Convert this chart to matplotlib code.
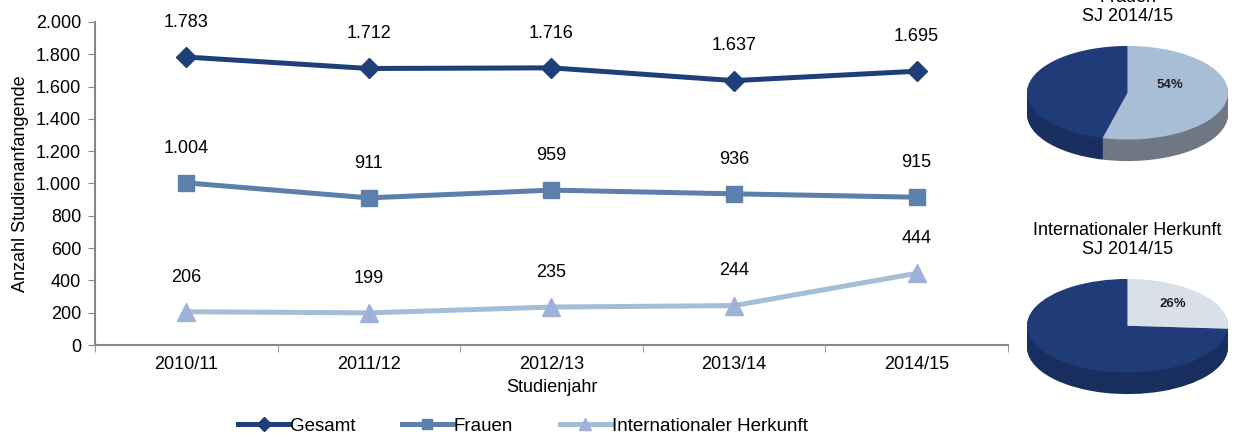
import matplotlib.pyplot as plt
import numpy as np

plt.rcParams['font.family'] = ['Liberation Sans', 'DejaVu Sans']
plt.rcParams['font.size'] = 13

jahre = ['2010/11', '2011/12', '2012/13', '2013/14', '2014/15']
gesamt = [1783, 1712, 1716, 1637, 1695]
frauen = [1004, 911, 959, 936, 915]
international = [206, 199, 235, 244, 444]

pie_frauen = [46, 54]
pie_intl = [74, 26]

c_ges = '#1F3F7A'
c_fra = '#5B80AB'
c_int = '#A3BED6'
c_int_m = '#9EB1D8'


def fmt_de(v):
    return '{:,}'.format(int(v)).replace(',', '.')


fig = plt.figure(figsize=(12.33, 4.37), dpi=100)
ax = fig.add_axes([0.0770, 0.2105, 0.7405, 0.7392])

x = np.arange(len(jahre))
ax.plot(x, gesamt, color=c_ges, lw=3.6, marker='D', ms=10, label='Gesamt')
ax.plot(x, frauen, color=c_fra, lw=3.6, marker='s', ms=11, label='Frauen')
ax.plot(x, international, color=c_int, lw=3.6, marker='^', ms=13,
        mfc=c_int_m, mec=c_int_m, label='Internationaler Herkunft')

for serie in (gesamt, frauen, international):
    for xi, v in zip(x, serie):
        ax.annotate(fmt_de(v), (xi, v), xytext=(0, 25), textcoords='offset points',
                    ha='center', va='center', fontsize=13)

ax.set_xlim(-0.5, len(jahre) - 0.5)
ax.set_ylim(0, 2000)
ax.set_yticks(np.arange(0, 2001, 200))
ax.set_yticklabels([fmt_de(v) for v in np.arange(0, 2001, 200)])
ax.set_xticks(x)
ax.set_xticklabels(jahre)
ax.set_xticks(np.arange(-0.5, len(jahre), 1), minor=True)
ax.tick_params(axis='x', which='major', length=0, pad=8)
ax.tick_params(axis='x', which='minor', length=5, color='#888888', direction='out')
ax.tick_params(axis='y', length=5, color='#888888', pad=5)
for s in ('top', 'right'):
    ax.spines[s].set_visible(False)
for s in ('left', 'bottom'):
    ax.spines[s].set_color('#888888')
    ax.spines[s].set_linewidth(1.5)
ax.set_ylabel('Anzahl Studienanfangende', fontsize=13, labelpad=5)
ax.set_xlabel('Studienjahr', fontsize=13, labelpad=4)

leg = fig.legend(loc='center', bbox_to_anchor=(0.424, 0.025), ncol=3, frameon=False,
                 handlelength=2.7, columnspacing=2.5, handletextpad=0.05,
                 markerscale=0.7, fontsize=13.5)


def pie3d(rect, values, top_colors, side_colors, label, label_pos, title):
    pa = fig.add_axes(rect)
    depth = 0.46
    for k in np.linspace(depth, 0.02, 24):
        pa.pie(values, colors=side_colors, startangle=90, counterclock=True,
               center=(0, -k), radius=1, wedgeprops=dict(linewidth=0))
    pa.pie(values, colors=top_colors, startangle=90, counterclock=True,
           center=(0, 0), radius=1, wedgeprops=dict(linewidth=0))
    pa.text(label_pos[0], label_pos[1], label, ha='center', va='center',
            fontsize=9.5, fontweight='bold', color='#222222')
    pa.set_aspect('auto')
    pa.set_xlim(-1.02, 1.02)
    pa.set_ylim(-1 - depth - 0.02, 1.02)
    pa.axis('off')
    pa.set_title(title, fontsize=13, pad=17, linespacing=1.2)
    return pa


pie3d([0.8313, 0.6293, 0.1663, 0.2677], pie_frauen,
      ['#1F3C78', '#A8BDD6'], ['#192F60', '#6E7783'],
      '54%', (0.42, 0.17), 'Frauen\nSJ 2014/15')
pie3d([0.8313, 0.0961, 0.1663, 0.2677], pie_intl,
      ['#1F3C78', '#DAE0EA'], ['#172E5E', '#8E97A4'],
      '26%', (0.45, 0.47), 'Internationaler Herkunft\nSJ 2014/15')

fig.savefig('out.png', dpi=100)
